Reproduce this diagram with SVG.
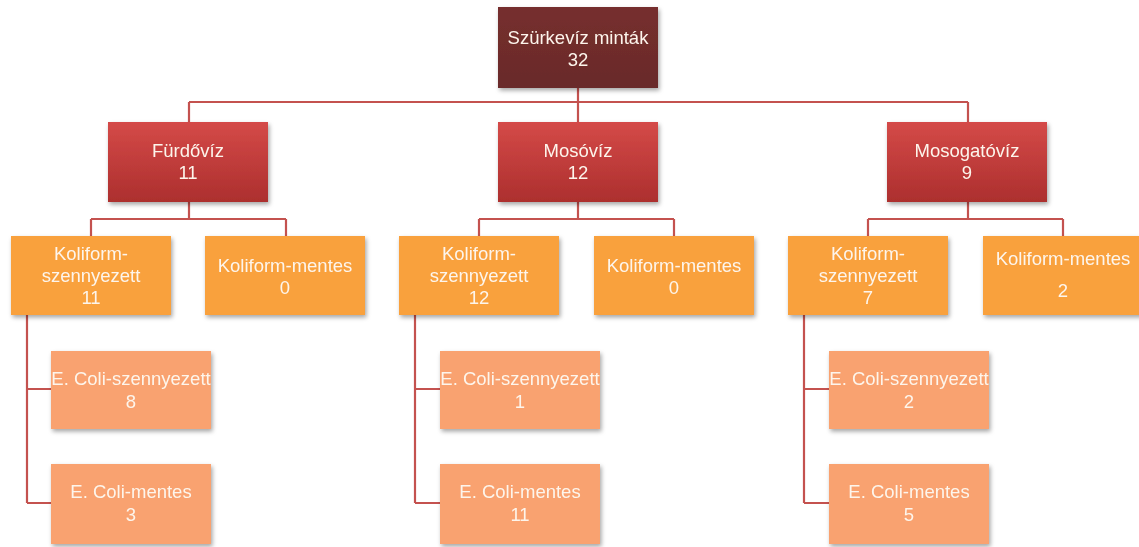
<svg xmlns="http://www.w3.org/2000/svg" width="1139" height="547" viewBox="0 0 1139 547">
<defs>
<linearGradient id="gTop" x1="0" y1="0" x2="0" y2="1"><stop offset="0" stop-color="#762f2e"/><stop offset="1" stop-color="#692a29"/></linearGradient>
<linearGradient id="gL2" x1="0" y1="0" x2="0" y2="1"><stop offset="0" stop-color="#d44a48"/><stop offset="1" stop-color="#ac2f2e"/></linearGradient>
<filter id="sh" x="-10%" y="-10%" width="125%" height="130%"><feDropShadow dx="1.5" dy="2.5" stdDeviation="2" flood-color="#000" flood-opacity="0.35"/></filter>
<style>
.n{filter:url(#sh)}
.t{fill:url(#gTop)}
.r{fill:url(#gL2)}
.o{fill:#f9a13e}
.s{fill:#f9a26f}
text{font-family:"Liberation Sans",Arial,sans-serif;font-size:18.5px;fill:#fdf5ec;text-anchor:middle}
.c{fill:none;stroke:#c4524f;stroke-width:2.2}
</style>
</defs>
<g id="connectors">
<path class="c" d="M578,88V102M189,102H968M189,102V122M578,102V122M968,102V122"/>
<path class="c" d="M189,202V219M91,219H286M91,219V236M286,219V236"/>
<path class="c" d="M578,202V219M479,219H674M479,219V236M674,219V236"/>
<path class="c" d="M968,202V219M868,219H1063M868,219V236M1063,219V236"/>
<path class="c" d="M27,315V503M27,389H51M27,503H51"/>
<path class="c" d="M415,315V503M415,389H440M415,503H440"/>
<path class="c" d="M804,315V503M804,389H829M804,503H829"/>
</g>
<g id="n-root" class="n"><rect class="t" x="498" y="7" width="160" height="81"/><text x="578" y="44">Szürkevíz minták</text><text x="578" y="66">32</text></g>
<g id="n-furdo" class="n"><rect class="r" x="108" y="122" width="160" height="80"/><text x="188" y="157">Fürdővíz</text><text x="188" y="179">11</text></g>
<g id="n-moso" class="n"><rect class="r" x="498" y="122" width="160" height="80"/><text x="578" y="157">Mosóvíz</text><text x="578" y="179">12</text></g>
<g id="n-mosogato" class="n"><rect class="r" x="887" y="122" width="160" height="80"/><text x="967" y="157">Mosogatóvíz</text><text x="967" y="179">9</text></g>

<g id="n-f-ksz" class="n"><rect class="o" x="11" y="236" width="160" height="79"/><text x="91" y="260">Koliform-</text><text x="91" y="282">szennyezett</text><text x="91" y="304">11</text></g>
<g id="n-f-km" class="n"><rect class="o" x="205" y="236" width="160" height="79"/><text x="285" y="272">Koliform-mentes</text><text x="285" y="294">0</text></g>
<g id="n-m-ksz" class="n"><rect class="o" x="399" y="236" width="160" height="79"/><text x="479" y="260">Koliform-</text><text x="479" y="282">szennyezett</text><text x="479" y="304">12</text></g>
<g id="n-m-km" class="n"><rect class="o" x="594" y="236" width="160" height="79"/><text x="674" y="272">Koliform-mentes</text><text x="674" y="294">0</text></g>
<g id="n-g-ksz" class="n"><rect class="o" x="788" y="236" width="160" height="79"/><text x="868" y="260">Koliform-</text><text x="868" y="282">szennyezett</text><text x="868" y="304">7</text></g>
<g id="n-g-km" class="n"><rect class="o" x="983" y="236" width="160" height="79"/><text x="1063" y="265">Koliform-mentes</text><text x="1063" y="297">2</text></g>

<g id="n-f-esz" class="n"><rect class="s" x="51" y="351" width="160" height="78"/><text x="131" y="385">E. Coli-szennyezett</text><text x="131" y="408">8</text></g>
<g id="n-f-em" class="n"><rect class="s" x="51" y="464" width="160" height="80"/><text x="131" y="498">E. Coli-mentes</text><text x="131" y="521">3</text></g>
<g id="n-m-esz" class="n"><rect class="s" x="440" y="351" width="160" height="78"/><text x="520" y="385">E. Coli-szennyezett</text><text x="520" y="408">1</text></g>
<g id="n-m-em" class="n"><rect class="s" x="440" y="464" width="160" height="80"/><text x="520" y="498">E. Coli-mentes</text><text x="520" y="521">11</text></g>
<g id="n-g-esz" class="n"><rect class="s" x="829" y="351" width="160" height="78"/><text x="909" y="385">E. Coli-szennyezett</text><text x="909" y="408">2</text></g>
<g id="n-g-em" class="n"><rect class="s" x="829" y="464" width="160" height="80"/><text x="909" y="498">E. Coli-mentes</text><text x="909" y="521">5</text></g>
</svg>
